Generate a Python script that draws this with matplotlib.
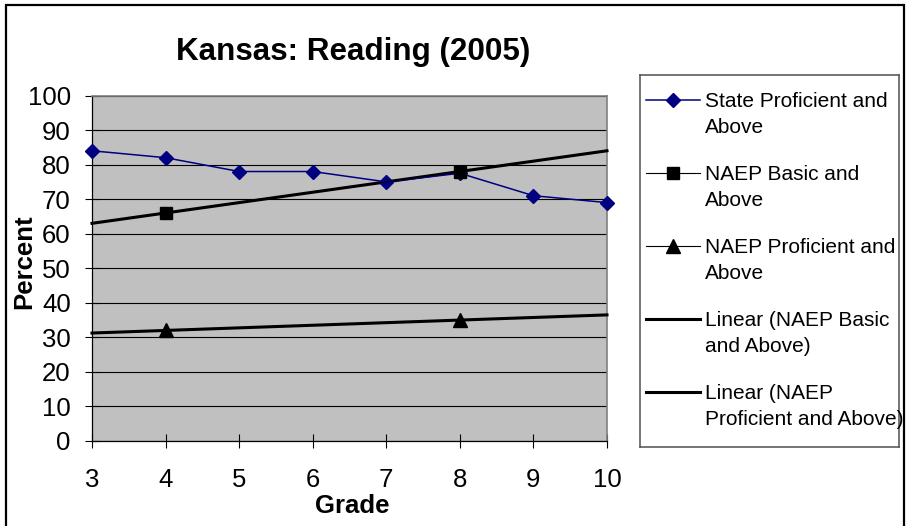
import numpy as np
import matplotlib
matplotlib.use("Agg")
import matplotlib.pyplot as plt
from matplotlib.patches import Rectangle
from matplotlib.lines import Line2D

plt.rcParams['font.family'] = ['Liberation Sans', 'DejaVu Sans']

# data
grades = [3, 4, 5, 6, 7, 8, 9, 10]
state_prof = [84, 82, 78, 78, 75, 77.5, 71, 69]
naep_grades = [4, 8]
naep_basic = [66, 78]
naep_prof = [32, 35]

title = "Kansas: Reading (2005)"
legend_labels = [
    ["State Proficient and", "Above"],
    ["NAEP Basic and", "Above"],
    ["NAEP Proficient and", "Above"],
    ["Linear (NAEP Basic", "and Above)"],
    ["Linear (NAEP", "Proficient and Above)"],
]

W, H = 907, 526
fig = plt.figure(figsize=(W / 100, H / 100), dpi=100)

# plot area in pixel coords
px_l, px_r, px_t, px_b = 92, 607, 95.5, 441
ax = fig.add_axes([px_l / W, 1 - px_b / H, (px_r - px_l) / W, (px_b - px_t) / H])
ax.set_facecolor('#C0C0C0')

navy = '#000080'
ax.plot(grades, state_prof, color=navy, lw=1.1, marker='D', ms=7,
        mfc=navy, mec=navy, clip_on=False, zorder=4)

# linear trendlines over the whole grade range
xs = np.array([grades[0], grades[-1]])
for vals in (naep_basic, naep_prof):
    k, b = np.polyfit(naep_grades, vals, 1)
    ax.plot(xs, k * xs + b, color='black', lw=2.2, zorder=3, clip_on=False)

ax.plot(naep_grades, naep_basic, color='black', lw=0.8, marker='s', ms=8.5,
        zorder=5)
ax.plot(naep_grades, naep_prof, color='black', lw=0.8, marker='^', ms=9.5,
        zorder=5)

ax.set_xlim(3, 10)
ax.set_ylim(0, 100)
ax.set_xticks(grades)
ax.set_yticks(np.arange(0, 101, 10))
ax.yaxis.grid(True, color='black', lw=0.8)
ax.set_axisbelow(True)
ax.tick_params(axis='both', direction='inout', length=10.5, width=0.8,
               labelsize=18.5, colors='black')
ax.tick_params(axis='x', pad=14.5)
ax.tick_params(axis='y', pad=10)
for s in ('left', 'bottom'):
    ax.spines[s].set_color('black')
    ax.spines[s].set_linewidth(0.9)
for s in ('top', 'right'):
    ax.spines[s].set_color('#808080')
    ax.spines[s].set_linewidth(1.2)

fig.text(353.5 / W, 1 - 52 / H, title, ha='center', va='center',
         fontsize=22.6, fontweight='bold')
fig.text(352 / W, 1 - 513 / H, "Grade", ha='center', va='baseline',
         fontsize=18.5, fontweight='bold')
fig.text(24.5 / W, 1 - 262 / H, "Percent", ha='center', va='center',
         fontsize=18.5, fontweight='bold', rotation=90)

# outer chart border
fig.add_artist(Rectangle((6 / W, -0.05), (904 - 6) / W, 1.05 - 5 / H,
                         transform=fig.transFigure, fill=False,
                         edgecolor='black', lw=1.6))

# legend drawn in its own pixel-based axes
lx0, ly0, lx1, ly1 = 640, 75, 899, 447
lax = fig.add_axes([lx0 / W, 1 - ly1 / H, (lx1 - lx0) / W, (ly1 - ly0) / H])
lax.set_xlim(0, lx1 - lx0)
lax.set_ylim(ly1 - ly0, 0)
lax.set_xticks([])
lax.set_yticks([])
lax.set_facecolor('white')
for s in lax.spines.values():
    s.set_color('#505050')
    s.set_linewidth(1.1)

styles = [
    dict(color=navy, lw=1.1, marker='D', ms=7),
    dict(color='black', lw=0.8, marker='s', ms=8.5),
    dict(color='black', lw=0.8, marker='^', ms=9.5),
    dict(color='black', lw=2.2),
    dict(color='black', lw=2.2),
]
for i, (lines, st) in enumerate(zip(legend_labels, styles)):
    yc = 25 + 73 * i
    lax.add_line(Line2D([6, 60], [yc, yc], color=st['color'], lw=st['lw']))
    if 'marker' in st:
        lax.plot([33], [yc], marker=st['marker'], ms=st['ms'],
                 color=st['color'], ls='none')
    for j, txt in enumerate(lines):
        lax.text(65, yc + 7.3 + 26 * j, txt, fontsize=15, va='baseline',
                 ha='left')

fig.savefig('out.png', dpi=100)
